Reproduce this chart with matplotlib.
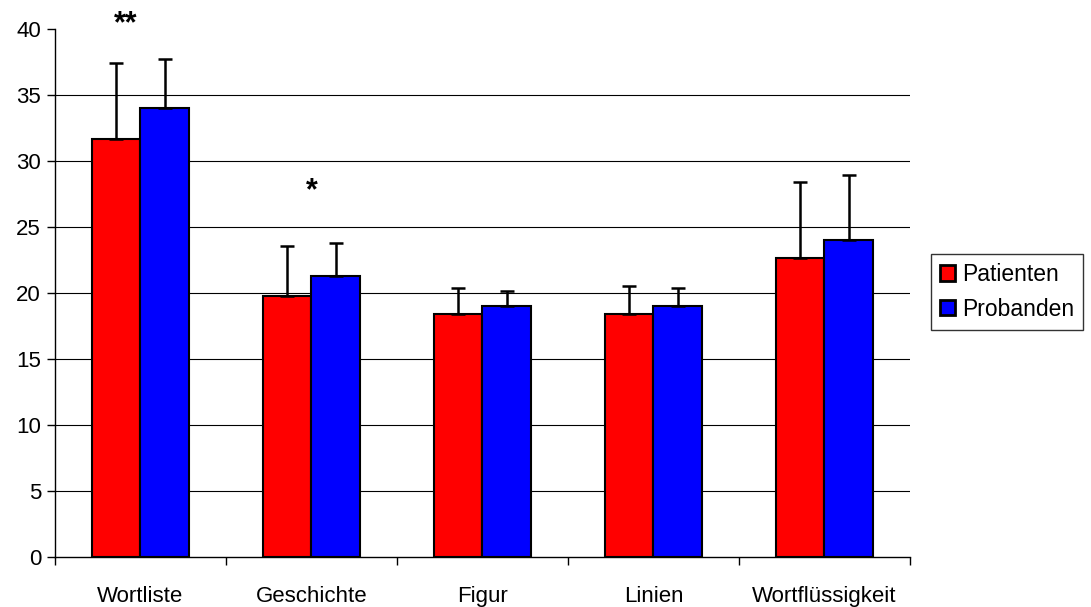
import numpy as np
import matplotlib.pyplot as plt

plt.rcParams['font.family'] = ['Liberation Sans', 'DejaVu Sans']

categories = ["Wortliste", "Geschichte", "Figur", "Linien", "Wortflüssigkeit"]
patienten = [31.7, 19.75, 18.4, 18.4, 22.65]
patienten_sd = [5.7, 3.85, 1.95, 2.1, 5.75]
probanden = [34.0, 21.3, 19.0, 19.0, 24.0]
probanden_sd = [3.75, 2.5, 1.15, 1.4, 4.95]

fig = plt.figure(figsize=(10.91, 6.07), dpi=100)
ax = fig.add_axes([0.0504, 0.0824, 0.7836, 0.8696])

x = np.arange(len(categories))
w = 0.284
ax.bar(x - w / 2, patienten, w, color="#ff0000", edgecolor="black", linewidth=1.5,
       label="Patienten", zorder=3)
ax.bar(x + w / 2, probanden, w, color="#0000ff", edgecolor="black", linewidth=1.5,
       label="Probanden", zorder=3)
zeros = np.zeros(len(categories))
ax.errorbar(x - w / 2, patienten, yerr=[zeros, patienten_sd], fmt="none",
            ecolor="black", elinewidth=1.8, capsize=5, capthick=1.8, zorder=4)
ax.errorbar(x + w / 2, probanden, yerr=[zeros, probanden_sd], fmt="none",
            ecolor="black", elinewidth=1.8, capsize=5, capthick=1.8, zorder=4)

# significance marks
ax.text(-0.085, 40.4, "**", ha="center", va="center", fontsize=22,
        fontweight="bold", clip_on=False)
ax.text(1.0, 27.7, "*", ha="center", va="center", fontsize=22, fontweight="bold")

ax.set_xlim(-0.5, len(categories) - 0.5)
ax.set_ylim(0, 40)
ax.set_yticks(range(0, 41, 5))
for yv in range(5, 40, 5):
    ax.axhline(yv, color="black", linewidth=0.8, zorder=1)

ax.set_xticks(x)
ax.set_xticklabels(categories, fontsize=16)
ax.tick_params(axis="x", length=0, pad=21)
ax.set_xticks(np.arange(-0.5, len(categories), 1), minor=True)
ax.tick_params(axis="x", which="minor", length=6, width=1, direction="out")
ax.tick_params(axis="y", labelsize=16, length=6, width=1, direction="out", pad=4)

for side in ["top", "right"]:
    ax.spines[side].set_visible(False)
ax.spines["left"].set_linewidth(1)
ax.spines["bottom"].set_linewidth(1)

leg = ax.legend(loc="upper left", bbox_to_anchor=(1.025, 0.574), fontsize=16.5,
                frameon=True, fancybox=False, edgecolor="black",
                handlelength=0.65, handleheight=0.65, handletextpad=0.3,
                borderpad=0.4, labelspacing=0.5, borderaxespad=0)
leg.get_frame().set_linewidth(1)
for h in leg.legend_handles:
    h.set_linewidth(2)

fig.savefig("out.png", dpi=100)
